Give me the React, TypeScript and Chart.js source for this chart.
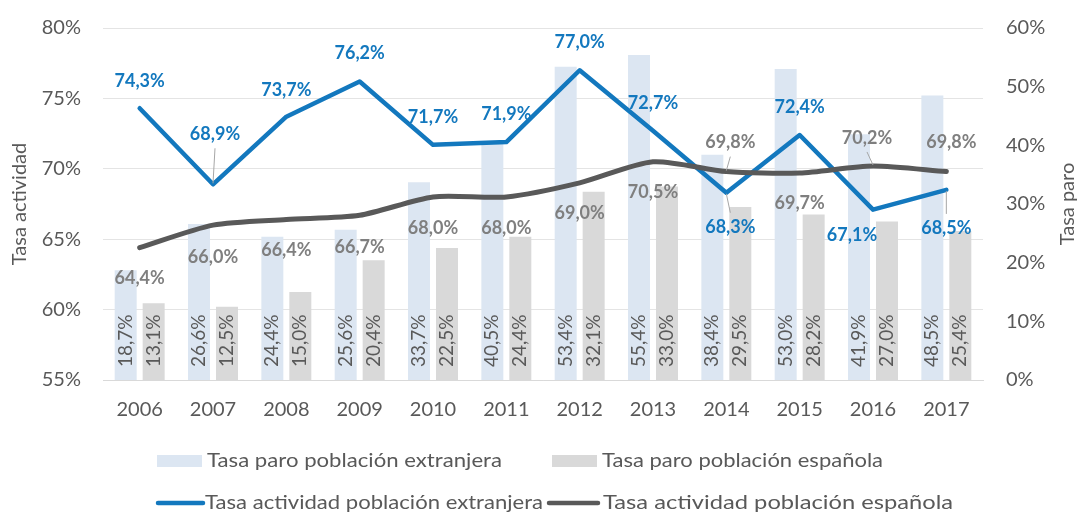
import React, { useEffect, useRef } from 'react';
import { Chart, registerables } from 'chart.js';

Chart.register(...registerables);

// ---- Data ----
const years = ['2006', '2007', '2008', '2009', '2010', '2011', '2012', '2013', '2014', '2015', '2016', '2017'];
const paroExtranjera = [18.7, 26.6, 24.4, 25.6, 33.7, 40.5, 53.4, 55.4, 38.4, 53.0, 41.9, 48.5];
const paroEspanola = [13.1, 12.5, 15.0, 20.4, 22.5, 24.4, 32.1, 33.0, 29.5, 28.2, 27.0, 25.4];
const actividadExtranjera = [74.3, 68.9, 73.7, 76.2, 71.7, 71.9, 77.0, 72.7, 68.3, 72.4, 67.1, 68.5];
const actividadEspanola = [64.4, 66.0, 66.4, 66.7, 68.0, 68.0, 69.0, 70.5, 69.8, 69.7, 70.2, 69.8];

const seriesNames = [
  'Tasa paro población extranjera',
  'Tasa paro población española',
  'Tasa actividad población extranjera',
  'Tasa actividad población española',
];
const leftAxisTitle = 'Tasa actividad';
const rightAxisTitle = 'Tasa paro';

// ---- Style / label layout (pixel offsets of the value labels) ----
const extLabelDy = [-27, -50, -27, -28, -28, -28, -28, -28, 34, -28, 26, 38];
const extLabelDx = [0, 2, 0, 0, 0, 0, 0, 0, 4, 0, -21, 0];
const extLeader = [false, true, false, false, false, false, false, false, true, false, false, true];
const espLabelDy = [31, 32, 31, 32, 31, 31, 30, 30, -29, 30, -28, -29];
const espLabelDx = [0, 0, 0, 0, 0, 0, 0, 0, 4, 0, -6, 5];
const espLeader = [false, false, false, false, false, false, false, false, true, false, true, false];

const C_BAR_EXT = '#dce6f2';
const C_BAR_ESP = '#d9d9d9';
const C_LINE_EXT = '#1378be';
const C_LINE_ESP = '#595959';
const C_TEXT = '#595959';
const C_LABEL_ESP = '#7f7f7f';
const FONT = 'Lato, "Open Sans", sans-serif';

const fmt = (v: number) => v.toFixed(1).replace('.', ',') + '%';

// draw text stretched/squeezed horizontally to a target width
const fitText = (ctx: CanvasRenderingContext2D, text: string, x: number, y: number, target: number) => {
  const w = ctx.measureText(text).width;
  ctx.save();
  ctx.translate(x, y);
  ctx.scale(target / w, 1);
  ctx.fillText(text, 0, 0);
  ctx.restore();
};

const customPlugin = {
  id: 'customDraw',
  afterDatasetsDraw(chart: any) {
    const ctx = chart.ctx;
    const area = chart.chartArea;
    // bar labels (rotated, inside bars at bottom)
    [0, 1].forEach((di) => {
      const meta = chart.getDatasetMeta(di);
      const values = chart.data.datasets[di].data as number[];
      meta.data.forEach((bar: any, i: number) => {
        ctx.save();
        ctx.translate(bar.x, area.bottom - 13);
        ctx.rotate(-Math.PI / 2);
        ctx.font = `19px ${FONT}`;
        ctx.fillStyle = C_TEXT;
        ctx.textAlign = 'left';
        ctx.textBaseline = 'middle';
        ctx.fillText(fmt(values[i]), 0, 0);
        ctx.restore();
      });
    });
    // line labels
    const drawLineLabels = (di: number, color: string, dys: number[], dxs: number[], leaders: boolean[]) => {
      const meta = chart.getDatasetMeta(di);
      const values = chart.data.datasets[di].data as number[];
      meta.data.forEach((pt: any, i: number) => {
        const lx = pt.x + dxs[i];
        const ly = pt.y + dys[i];
        if (leaders[i]) {
          ctx.save();
          ctx.strokeStyle = '#a6a6a6';
          ctx.lineWidth = 1;
          ctx.beginPath();
          const dir = dys[i] < 0 ? 1 : -1;
          ctx.moveTo(lx, ly + dir * 14);
          ctx.lineTo(pt.x, pt.y - dir * 1);
          ctx.stroke();
          ctx.restore();
        }
        ctx.save();
        ctx.font = `bold 18px ${FONT}`;
        ctx.fillStyle = color;
        ctx.textAlign = 'center';
        ctx.textBaseline = 'middle';
        ctx.fillText(fmt(values[i]), lx, ly);
        ctx.restore();
      });
    };
    drawLineLabels(2, C_LINE_EXT, extLabelDy, extLabelDx, extLeader);
    drawLineLabels(3, C_LABEL_ESP, espLabelDy, espLabelDx, espLeader);
  },
  afterDraw(chart: any) {
    const ctx = chart.ctx;
    const area = chart.chartArea;
    const midY = (area.top + area.bottom) / 2;
    // axis titles
    ctx.save();
    ctx.font = `20px ${FONT}`;
    ctx.fillStyle = C_TEXT;
    ctx.textAlign = 'center';
    ctx.textBaseline = 'middle';
    ctx.translate(20, midY);
    ctx.rotate(-Math.PI / 2);
    ctx.fillText(leftAxisTitle, 0, 0);
    ctx.restore();
    ctx.save();
    ctx.font = `20px ${FONT}`;
    ctx.fillStyle = C_TEXT;
    ctx.textAlign = 'center';
    ctx.textBaseline = 'middle';
    ctx.translate(1068, midY);
    ctx.rotate(-Math.PI / 2);
    ctx.fillText(rightAxisTitle, 0, 0);
    ctx.restore();
    // legend
    ctx.save();
    ctx.font = `19px ${FONT}`;
    ctx.textAlign = 'left';
    ctx.textBaseline = 'middle';
    const r1 = 461;
    const r2 = 503;
    ctx.fillStyle = C_BAR_EXT;
    ctx.fillRect(157, r1 - 6, 45, 12);
    ctx.fillStyle = C_BAR_ESP;
    ctx.fillRect(552, r1 - 6, 45, 12);
    ctx.fillStyle = C_TEXT;
    fitText(ctx, seriesNames[0], 207, r1, 295);
    fitText(ctx, seriesNames[1], 602, r1, 281);
    ctx.lineCap = 'round';
    ctx.lineWidth = 4.5;
    ctx.strokeStyle = C_LINE_EXT;
    ctx.beginPath();
    ctx.moveTo(158, r2);
    ctx.lineTo(203, r2);
    ctx.stroke();
    ctx.strokeStyle = C_LINE_ESP;
    ctx.beginPath();
    ctx.moveTo(549, r2);
    ctx.lineTo(598, r2);
    ctx.stroke();
    fitText(ctx, seriesNames[2], 205, r2, 338);
    fitText(ctx, seriesNames[3], 603, r2, 350);
    ctx.restore();
  },
};

export default function App() {
  const canvasRef = useRef<HTMLCanvasElement | null>(null);

  useEffect(() => {
    document.body.style.margin = '0';
    const canvas = canvasRef.current;
    if (!canvas) return;
    const chart = new Chart(canvas, {
      type: 'bar',
      data: {
        labels: years,
        datasets: [
          {
            type: 'bar',
            label: seriesNames[0],
            data: paroExtranjera,
            backgroundColor: C_BAR_EXT,
            yAxisID: 'y1',
            order: 2,
            categoryPercentage: 0.763,
            barPercentage: 0.786,
          },
          {
            type: 'bar',
            label: seriesNames[1],
            data: paroEspanola,
            backgroundColor: C_BAR_ESP,
            yAxisID: 'y1',
            order: 2,
            categoryPercentage: 0.763,
            barPercentage: 0.786,
          },
          {
            type: 'line',
            label: seriesNames[2],
            data: actividadExtranjera,
            borderColor: C_LINE_EXT,
            backgroundColor: C_LINE_EXT,
            borderWidth: 4.5,
            pointRadius: 0,
            tension: 0,
            borderCapStyle: 'round',
            borderJoinStyle: 'round',
            yAxisID: 'y',
            order: 1,
          },
          {
            type: 'line',
            label: seriesNames[3],
            data: actividadEspanola,
            borderColor: C_LINE_ESP,
            backgroundColor: C_LINE_ESP,
            borderWidth: 5,
            pointRadius: 0,
            tension: 0.25,
            borderCapStyle: 'round',
            borderJoinStyle: 'round',
            yAxisID: 'y',
            order: 0,
          },
        ],
      } as any,
      options: {
        responsive: false,
        animation: false,
        layout: { padding: { top: 28, left: 0, right: 0, bottom: 0 } },
        plugins: {
          legend: { display: false },
          tooltip: { enabled: false },
        },
        scales: {
          x: {
            grid: { display: false, drawTicks: false },
            border: { display: true, color: '#d9d9d9', width: 1 },
            ticks: { color: C_TEXT, font: { family: FONT, size: 20 }, padding: 18 },
            afterFit: (s: any) => { s.height = 134; },
          },
          y: {
            position: 'left',
            min: 55,
            max: 80,
            ticks: {
              stepSize: 5,
              color: C_TEXT,
              font: { family: FONT, size: 20 },
              padding: 22,
              callback: (v: any) => v + '%',
            },
            grid: { color: '#e4e4e4', lineWidth: 1, drawTicks: false },
            border: { display: false },
            afterFit: (s: any) => { s.width = 103; s.paddingTop = 0; s.paddingBottom = 0; },
          },
          y1: {
            position: 'right',
            min: 0,
            max: 60,
            ticks: {
              stepSize: 10,
              color: C_TEXT,
              font: { family: FONT, size: 20 },
              padding: 23,
              callback: (v: any) => v + '%',
            },
            grid: { display: false, drawTicks: false },
            border: { display: false },
            afterFit: (s: any) => { s.width = 96; s.paddingTop = 0; s.paddingBottom = 0; },
          },
        },
      } as any,
      plugins: [customPlugin],
    });
    return () => chart.destroy();
  }, []);

  return (
    <div style={{ width: 1079, height: 514 }}>
      <canvas ref={canvasRef} width={1079} height={514} style={{ display: 'block' }} />
    </div>
  );
}
